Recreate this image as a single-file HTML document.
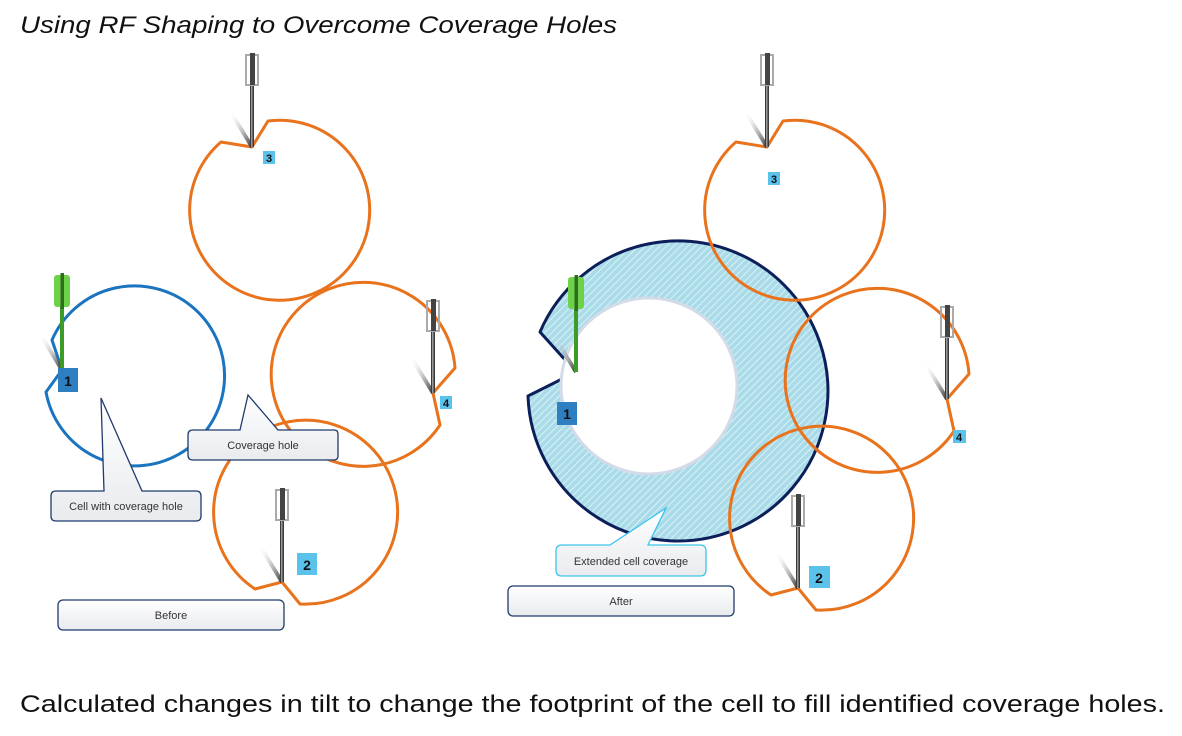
<!DOCTYPE html>
<html><head><meta charset="utf-8"><style>
html,body{margin:0;padding:0;background:#fff;}
svg{display:block;}
text{font-family:"Liberation Sans",sans-serif;}
</style></head><body>
<svg width="1182" height="736" viewBox="0 0 1182 736" xmlns="http://www.w3.org/2000/svg">
<defs>
<pattern id="hatch" width="5" height="5" patternUnits="userSpaceOnUse" patternTransform="rotate(45)">
<rect width="5" height="5" fill="#a9dbe8"/>
<line x1="0" y1="0" x2="0" y2="5" stroke="#e8f6fa" stroke-width="1.6"/>
</pattern>
<linearGradient id="box" x1="0" y1="0" x2="0" y2="1"><stop offset="0" stop-color="#ffffff"/><stop offset="1" stop-color="#e9ebee"/></linearGradient>
<linearGradient id="sh" x1="0" y1="0" x2="1" y2="1"><stop offset="0" stop-color="#fff" stop-opacity="0"/><stop offset="1" stop-color="#333"/></linearGradient>
<g id="ant">
<line x1="-22" y1="-36" x2="0" y2="0" stroke="url(#sh)" stroke-width="4"/>
<rect x="-2" y="-90" width="4" height="90" fill="#3a3a3a"/>
<rect x="-1" y="-90" width="1.5" height="90" fill="#999"/>
<rect x="-6" y="-92" width="12" height="30" fill="none" stroke="#aaa" stroke-width="2"/>
<rect x="-2" y="-94" width="5" height="32" fill="#444"/>
</g>
<g id="antg">
<line x1="-22" y1="-36" x2="0" y2="0" stroke="url(#sh)" stroke-width="4"/>
<rect x="-2" y="-90" width="4" height="90" fill="#3d9b28"/>
<rect x="-8" y="-95" width="16" height="32" rx="3" fill="#6dd14a"/>
<rect x="-1.5" y="-97" width="3.5" height="36" fill="#2e6d1c"/>
</g>
</defs>

<text x="20" y="33" font-size="24" font-style="italic" fill="#111" textLength="597" lengthAdjust="spacingAndGlyphs">Using RF Shaping to Overcome Coverage Holes</text>

<!-- LEFT -->
<g fill="none" stroke-width="3" stroke-linejoin="round">
<path d="M252,147 L268,121 A90,90 0 1 1 221,142 Z" stroke="#e8731c"/>
<path d="M62,370 L52,340 A90,90 0 1 1 46,392 Z" stroke="#1a74bf"/>
<path d="M433,393 L440,425 A92,92 0 1 1 455,368 Z" stroke="#e8731c"/>
<path d="M282,582 L300,604 A92,92 0 1 0 255,589 Z" stroke="#e8731c"/>
</g>
<use href="#ant" x="252" y="147"/>
<use href="#ant" x="433" y="393"/>
<use href="#ant" x="282" y="582"/>
<use href="#antg" x="62" y="370"/>

<rect x="58" y="368" width="20" height="24" fill="#2d7fc1"/><text x="68" y="386" font-size="14" font-weight="bold" text-anchor="middle" fill="#111">1</text>
<rect x="297" y="553" width="20" height="22" fill="#5bc2ec"/><text x="307" y="570" font-size="14" font-weight="bold" text-anchor="middle" fill="#111">2</text>
<rect x="263" y="151" width="12" height="13" fill="#5bc2ec"/><text x="269" y="162" font-size="11" font-weight="bold" text-anchor="middle" fill="#111">3</text>
<rect x="440" y="396" width="12" height="13" fill="#5bc2ec"/><text x="446" y="407" font-size="11" font-weight="bold" text-anchor="middle" fill="#111">4</text>

<!-- callouts left -->
<path d="M193,430 L240,430 L248,395 L278,430 L334,430 Q338,430 338,434 L338,456 Q338,460 334,460 L193,460 Q188,460 188,455 L188,435 Q188,430 193,430 Z" fill="url(#box)" stroke="#1f3a6e" stroke-width="1.3"/>
<text x="263" y="449" font-size="11" text-anchor="middle" fill="#333">Coverage hole</text>
<path d="M56,491 L104,491 L101,398 L142,491 L196,491 Q201,491 201,496 L201,516 Q201,521 196,521 L56,521 Q51,521 51,516 L51,496 Q51,491 56,491 Z" fill="url(#box)" stroke="#1f3a6e" stroke-width="1.3"/>
<text x="126" y="510" font-size="11" text-anchor="middle" fill="#333">Cell with coverage hole</text>
<rect x="58" y="600" width="226" height="30" rx="5" fill="url(#box)" stroke="#1f3a6e" stroke-width="1.3"/>
<text x="171" y="619" font-size="11" text-anchor="middle" fill="#333">Before</text>

<!-- RIGHT -->
<path d="M576,372 L540,332 A150,150 0 1 1 528,396 Z" fill="url(#hatch)" stroke="#0c1f5a" stroke-width="3" stroke-linejoin="round"/>
<circle cx="649" cy="386" r="88" fill="#fff" stroke="#d4dbe8" stroke-width="3"/>
<g fill="none" stroke-width="3" stroke-linejoin="round">
<path d="M252,147 L268,121 A90,90 0 1 1 221,142 Z" stroke="#e8731c" transform="translate(515,0)"/>
<path d="M433,393 L440,425 A92,92 0 1 1 455,368 Z" stroke="#e8731c" transform="translate(514,6)"/>
<path d="M282,582 L300,604 A92,92 0 1 0 255,589 Z" stroke="#e8731c" transform="translate(516,6)"/>
</g>
<use href="#ant" x="767" y="147"/>
<use href="#ant" x="947" y="399"/>
<use href="#ant" x="798" y="588"/>
<use href="#antg" x="576" y="372"/>

<rect x="557" y="402" width="20" height="23" fill="#2d7fc1"/><text x="567" y="419" font-size="14" font-weight="bold" text-anchor="middle" fill="#111">1</text>
<rect x="809" y="566" width="21" height="22" fill="#5bc2ec"/><text x="819" y="583" font-size="14" font-weight="bold" text-anchor="middle" fill="#111">2</text>
<rect x="768" y="172" width="12" height="13" fill="#5bc2ec"/><text x="774" y="183" font-size="11" font-weight="bold" text-anchor="middle" fill="#111">3</text>
<rect x="953" y="430" width="13" height="13" fill="#5bc2ec"/><text x="959" y="441" font-size="11" font-weight="bold" text-anchor="middle" fill="#111">4</text>

<path d="M562,545 L610,545 L666,508 L648,545 L700,545 Q706,545 706,551 L706,570 Q706,576 700,576 L562,576 Q556,576 556,570 L556,551 Q556,545 562,545 Z" fill="url(#box)" stroke="#3cc4ee" stroke-width="1.3"/>
<text x="631" y="565" font-size="11" text-anchor="middle" fill="#333">Extended cell coverage</text>
<rect x="508" y="586" width="226" height="30" rx="5" fill="url(#box)" stroke="#1f3a6e" stroke-width="1.3"/>
<text x="621" y="605" font-size="11" text-anchor="middle" fill="#333">After</text>

<text x="20" y="712" font-size="24" fill="#111" textLength="1145" lengthAdjust="spacingAndGlyphs">Calculated changes in tilt to change the footprint of the cell to fill identified coverage holes.</text>
</svg>
</body></html>
